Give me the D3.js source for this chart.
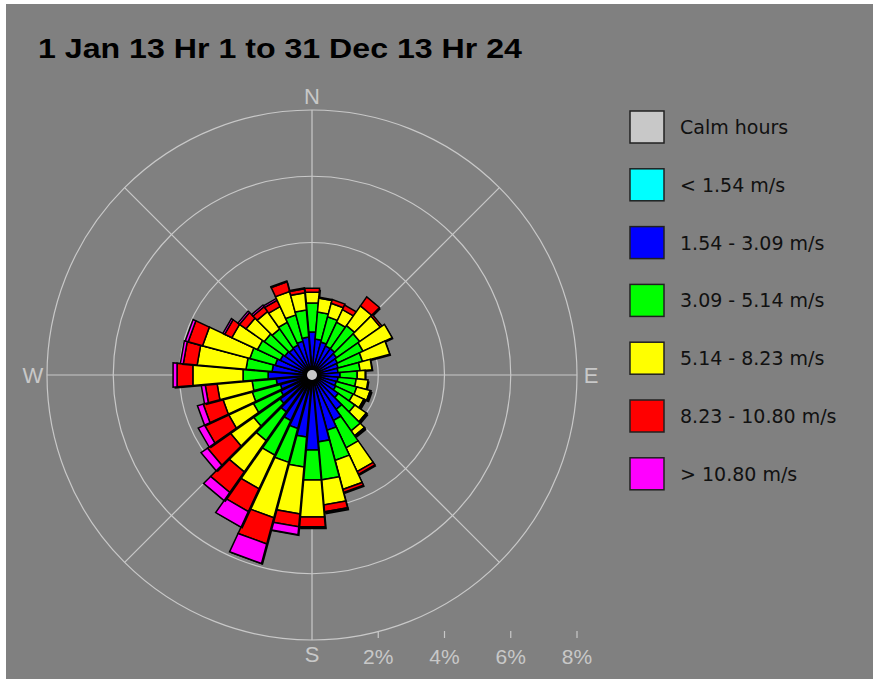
<!DOCTYPE html>
<html>
<head>
<meta charset="utf-8">
<script src="https://cdn.jsdelivr.net/npm/d3@7"></script>
<style>
  body { margin: 0; background: #fff; }
  svg { display: block; }
</style>
</head>
<body>
<svg id="chart" width="873" height="679"></svg>
<script>
const title = "1 Jan 13 Hr 1 to 31 Dec 13 Hr 24";

// wind directions (deg, clockwise from north)
const directions = [0, 10, 20, 30, 40, 50, 60, 70, 80, 90, 100, 110, 120, 130, 140, 150, 160, 170,
  180, 190, 200, 210, 220, 230, 240, 250, 260, 270, 280, 290, 300, 310, 320, 330, 340, 350];

const calmLabel = "Calm hours";
const speedLabels = ["< 1.54 m/s", "1.54 - 3.09 m/s", "3.09 - 5.14 m/s", "5.14 - 8.23 m/s", "8.23 - 10.80 m/s", "> 10.80 m/s"];
const speedColors = ["#00ffff", "#0000ff", "#00ff00", "#ffff00", "#ff0000", "#ff00ff"];

// frequency (% of hours) per direction, one array per speed class
const below154 = [0, 0, 0, 0, 0, 0, 0, 0, 0, 0, 0, 0, 0, 0, 0, 0, 0, 0,
  0, 0, 0, 0, 0, 0, 0, 0, 0, 0, 0, 0, 0, 0, 0, 0, 0, 0];
const from154 = [1.30, 1.09, 1.03, 0.97, 0.97, 0.91, 0.85, 0.82, 0.79, 0.85, 0.79, 0.76, 0.79, 0.97, 1.27, 1.52, 1.73, 2.03,
  2.27, 1.88, 1.67, 1.52, 1.36, 1.21, 1.06, 1.00, 1.09, 1.33, 1.21, 1.15, 1.06, 1.00, 0.97, 1.00, 1.06, 1.15];
const from309 = [0.88, 0.82, 0.79, 0.79, 0.85, 0.85, 0.85, 0.76, 0.67, 0.52, 0.55, 0.64, 0.58, 0.61, 0.79, 0.91, 0.94, 1.15,
  0.91, 0.91, 1.06, 1.15, 1.06, 0.97, 0.91, 0.88, 0.73, 0.76, 0.79, 0.79, 0.76, 0.76, 0.73, 0.76, 0.82, 0.82];
const from514 = [0.33, 0.42, 0.42, 0.42, 0.73, 0.76, 0.97, 0.85, 0.36, 0.24, 0.36, 0.42, 0.36, 0.42, 0.18, 0.79, 0.91, 0.76,
  1.12, 1.42, 1.73, 1.12, 1.15, 0.85, 0.82, 0.91, 1.06, 1.52, 1.48, 1.48, 0.85, 0.67, 0.64, 0.52, 0.73, 0.52];
const from823 = [0.12, 0.03, 0.12, 0.15, 0.33, 0.06, 0, 0, 0, 0, 0, 0.03, 0.03, 0.03, 0.03, 0.09, 0.09, 0.21,
  0.30, 0.39, 0.82, 0.76, 0.76, 0.82, 0.79, 0.61, 0.36, 0.48, 0.42, 0.45, 0.24, 0.24, 0.18, 0.21, 0.30, 0.12];
const above1080 = [0, 0, 0, 0, 0, 0, 0, 0, 0, 0, 0, 0, 0, 0, 0, 0, 0, 0.03,
  0.03, 0.24, 0.61, 0.52, 0.30, 0.24, 0.21, 0.18, 0.12, 0.12, 0.09, 0.09, 0.06, 0.06, 0.06, 0.06, 0.03, 0.03];

const ringTicks = [2, 4, 6, 8];
const compassLabels = ["N", "E", "S", "W"];
const compassAngles = [0, 90, 180, 270];

const svg = d3.select("#chart");
const W = 873, H = 679;
const cx = 312, cy = 375;

svg.append("rect").attr("x", 6).attr("y", 4).attr("width", W - 6).attr("height", H - 4).attr("fill", "#808080");

svg.append("text")
  .attr("x", 38).attr("y", 58)
  .attr("font-family", "Liberation Sans, Arial, sans-serif")
  .attr("font-weight", "bold")
  .attr("font-size", 28)
  .attr("textLength", 484)
  .attr("lengthAdjust", "spacingAndGlyphs")
  .attr("fill", "#000")
  .text(title);

const r = d3.scaleLinear().domain([0, 8]).range([0, 265]);
const gridColor = "#c8c8c8";

function pt(angleDeg, rad) {
  const a = angleDeg * Math.PI / 180;
  return [cx + rad * Math.sin(a), cy - rad * Math.cos(a)];
}

const grid = svg.append("g");
grid.selectAll("circle.ring")
  .data(ringTicks)
  .enter().append("circle")
    .attr("class", "ring")
    .attr("cx", cx).attr("cy", cy)
    .attr("r", (d) => r(d))
    .attr("fill", "none")
    .attr("stroke", gridColor)
    .attr("stroke-width", 1.2);

grid.selectAll("line.spoke")
  .data([0, 45, 90, 135, 180, 225, 270, 315])
  .enter().append("line")
    .attr("class", "spoke")
    .attr("x1", cx).attr("y1", cy)
    .attr("x2", (d) => pt(d, r(8))[0])
    .attr("y2", (d) => pt(d, r(8))[1])
    .attr("stroke", gridColor)
    .attr("stroke-width", 1.2);

grid.selectAll("text.compass")
  .data(compassLabels)
  .enter().append("text")
    .attr("class", "compass")
    .attr("x", (d, i) => pt(compassAngles[i], r(8) + 14)[0])
    .attr("y", (d, i) => pt(compassAngles[i], r(8) + 14)[1])
    .attr("text-anchor", "middle")
    .attr("dominant-baseline", "central")
    .attr("font-family", "Liberation Sans, Arial, sans-serif")
    .attr("font-size", 22)
    .attr("fill", gridColor)
    .text((d) => d);

grid.selectAll("line.tick")
  .data(ringTicks)
  .enter().append("line")
    .attr("class", "tick")
    .attr("x1", (d) => cx + r(d)).attr("x2", (d) => cx + r(d))
    .attr("y1", 631).attr("y2", 638)
    .attr("stroke", gridColor)
    .attr("stroke-width", 1.2);

grid.selectAll("text.pct")
  .data(ringTicks)
  .enter().append("text")
    .attr("class", "pct")
    .attr("x", (d) => cx + r(d))
    .attr("y", 664)
    .attr("text-anchor", "middle")
    .attr("font-family", "Liberation Sans, Arial, sans-serif")
    .attr("font-size", 21)
    .attr("fill", gridColor)
    .text((d) => d + "%");

// stacked bars
const series = [below154, from154, from309, from514, from823, above1080];
const halfWidth = 5;
const bars = svg.append("g");

directions.forEach((dir, i) => {
  let start = 0;
  const segs = [];
  series.forEach((s, k) => {
    const v = s[i];
    if (v > 0) segs.push({ r0: start, r1: start + v, color: speedColors[k] });
    start += v;
  });
  const g = bars.append("g");
  // shadow
  const outer = start;
  const shadowPts = [pt(dir - halfWidth, 0), pt(dir - halfWidth, r(outer)), pt(dir + halfWidth, r(outer)), pt(dir + halfWidth, 0)];
  g.append("polygon")
    .attr("points", shadowPts.map((p) => (p[0] + 1.5) + "," + (p[1] + 1.5)).join(" "))
    .attr("fill", "#000");
  g.selectAll("polygon.seg")
    .data(segs)
    .enter().append("polygon")
      .attr("class", "seg")
      .attr("points", (d) => [
        pt(dir - halfWidth, r(d.r0)), pt(dir - halfWidth, r(d.r1)),
        pt(dir + halfWidth, r(d.r1)), pt(dir + halfWidth, r(d.r0))
      ].map((p) => p.join(",")).join(" "))
      .attr("fill", (d) => d.color)
      .attr("stroke", "#000")
      .attr("stroke-width", 1.5)
      .attr("stroke-linejoin", "miter");
});

svg.append("circle").attr("cx", cx).attr("cy", cy).attr("r", 9).attr("fill", "#000");
svg.append("circle").attr("cx", cx).attr("cy", cy).attr("r", 5).attr("fill", "#c8c8c8");

// legend
const legendItems = [calmLabel].concat(speedLabels);
const legendColors = ["#c8c8c8"].concat(speedColors);
const legend = svg.append("g");
const rows = legend.selectAll("g")
  .data(legendItems)
  .enter().append("g")
    .attr("transform", (d, i) => "translate(630," + (111 + i * 57.8) + ")");
rows.append("rect")
  .attr("width", 34).attr("height", 32)
  .attr("fill", (d, i) => legendColors[i])
  .attr("stroke", "#202020")
  .attr("stroke-width", 1.5);
rows.append("text")
  .attr("x", 50).attr("y", 16)
  .attr("dominant-baseline", "central")
  .attr("font-family", "DejaVu Sans, sans-serif")
  .attr("font-size", 19)
  .attr("fill", "#111")
  .text((d) => d);
</script>
</body>
</html>
